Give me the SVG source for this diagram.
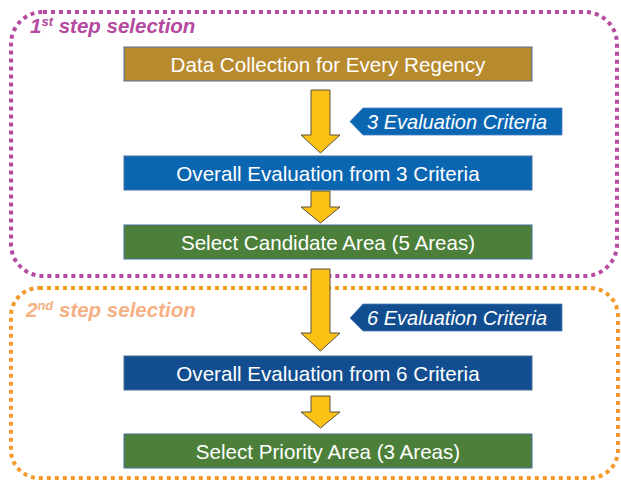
<svg xmlns="http://www.w3.org/2000/svg" width="621" height="482" viewBox="0 0 621 482">
<style>
.box{stroke:#4a6f9e;stroke-width:1}
.bt{font-family:"Liberation Sans",Arial,sans-serif;font-size:20.6px;fill:#fff;text-anchor:middle}
.lt{font-family:"Liberation Sans",Arial,sans-serif;font-size:20px;font-style:italic;fill:#fff}
.ht{font-family:"Liberation Sans",Arial,sans-serif;font-size:20.5px;font-style:italic;font-weight:bold}
.arr{fill:#fbc115;stroke:#5a5040;stroke-width:1}
.grp{fill:none;stroke-width:4;stroke-dasharray:4 4}
</style>
<g id="group1">
<rect class="grp" x="11" y="12" width="606" height="264" rx="32" stroke="#b54aa0"/>
<text class="ht" x="30" y="33" fill="#b54aa0">1<tspan font-size="13" dy="-7">st</tspan><tspan dy="7"> step selection</tspan></text>
</g>
<g id="group2">
<rect class="grp" x="11" y="288" width="607" height="190" rx="28" stroke="#f39a2b"/>
<text class="ht" x="26" y="317" fill="#f5b183">2<tspan font-size="13" dy="-7">nd</tspan><tspan dy="7"> step selection</tspan></text>
</g>
<g id="connectors">
<polygon class="arr" points="311,90 330,90 330,135 340,135 320.5,153 301,135 311,135"/>
<polygon class="arr" points="311,191 330,191 330,207 340,207 320.5,223 301,207 311,207"/>
<polygon class="arr" points="311,269 330,269 330,333 340,333 320.5,351 301,333 311,333"/>
<polygon class="arr" points="311,396 330,396 330,412 340,412 320.5,428 301,412 311,412"/>
</g>
<g id="n1"><rect class="box" x="124" y="47" width="408" height="34" fill="#b88a2e"/><text class="bt" x="328" y="72">Data Collection for Every Regency</text></g>
<g id="l1"><polygon points="350,121.5 363,108 562,108 562,135 363,135" fill="#0b66b2" stroke="#4a7fc0" stroke-width="0.8"/><text class="lt" x="367" y="129">3 Evaluation Criteria</text></g>
<g id="n2"><rect class="box" x="124" y="156" width="408" height="34" fill="#0b66b2"/><text class="bt" x="328" y="180.5">Overall Evaluation from 3 Criteria</text></g>
<g id="n3"><rect class="box" x="124" y="225" width="408" height="34" fill="#4b7f3a"/><text class="bt" x="328" y="249.5">Select Candidate Area (5 Areas)</text></g>
<g id="l2"><polygon points="350,318 363,304 562,304 562,331 363,331" fill="#124e8f" stroke="#4a7fc0" stroke-width="0.8"/><text class="lt" x="367" y="325">6 Evaluation Criteria</text></g>
<g id="n4"><rect class="box" x="124" y="356" width="408" height="34" fill="#124e8f"/><text class="bt" x="328" y="380.5">Overall Evaluation from 6 Criteria</text></g>
<g id="n5"><rect class="box" x="124" y="434" width="408" height="34" fill="#4b7f3a"/><text class="bt" x="328" y="458.5">Select Priority Area (3 Areas)</text></g>
</svg>
